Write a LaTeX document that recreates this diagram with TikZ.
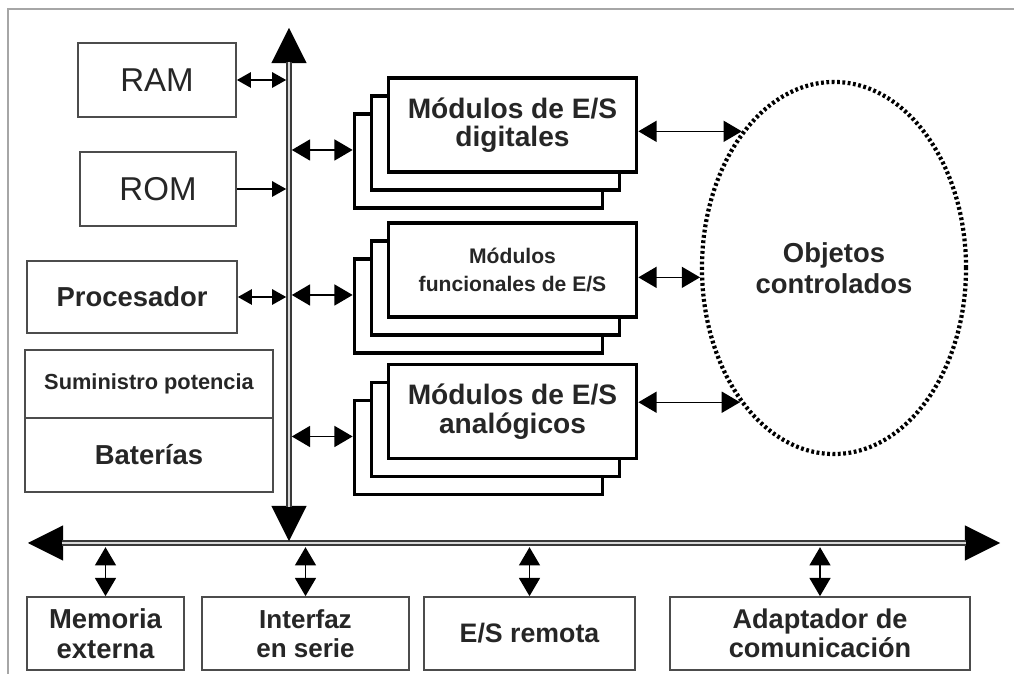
\documentclass[tikz,border=0pt]{standalone}
\usepackage{fontspec}
\setmainfont{Liberation Sans}
\usetikzlibrary{arrows.meta,shapes.geometric}

\tikzset{
  caja/.style={draw=black!70,line width=1.2pt,fill=white,inner sep=0pt,align=center,text=black!85},
  modulo/.style={draw=black,line width=2.6pt,fill=white,minimum width=6.2cm,minimum height=2.35cm,inner sep=0pt,align=center,text=black!85},
  marco/.style={draw=gray!70,line width=1.8pt},
  bus/.style={draw=gray!45!black,double=gray!30,double distance=2pt,line width=1.1pt},
  puntabus/.style={line width=0.4pt,{Triangle[length=25pt,width=25pt]}-{Triangle[length=25pt,width=25pt]}},
  es/.style={line width=1pt,{Triangle[length=10pt,width=11pt]}-{Triangle[length=10pt,width=11pt]}},
  esu/.style={line width=1pt,-{Triangle[length=10pt,width=11pt]}},
  esg/.style={line width=1pt,{Triangle[length=13pt,width=15pt]}-{Triangle[length=13pt,width=15pt]}},
  objeto/.style={draw=black,ellipse,line width=3pt,dash pattern=on 2pt off 1.8pt,inner sep=0pt,align=center,text=black!85}
}

\begin{document}
\begin{tikzpicture}[x=0.025cm,y=-0.025cm]
\useasboundingbox (0,0) rectangle (1014,674);

%marco exterior
\draw[marco] (8,674) -- (8,9) -- (1014,9);

%------------bus interno y bus externo------------
\coordinate (vtop) at (289,28);
\coordinate (vbot) at (289,541);
\coordinate (hizq) at (28,543);
\coordinate (hder) at (1000,543);
\draw[puntabus] (hizq) -- (hder);
\draw[bus,shorten <=24pt,shorten >=24pt] (hizq) -- (hder);
\draw[puntabus] (vtop) -- (vbot);
\draw[bus,shorten <=24pt,shorten >=24pt] (vtop) -- (vbot);

%memorias, procesador, alimentacion
\node[caja,minimum width=3.95cm,minimum height=1.85cm,font=\fontsize{23.5}{24}\selectfont] (ram) at (157,80) {RAM};
\node[caja,minimum width=3.9cm,minimum height=1.85cm,font=\fontsize{23.5}{24}\selectfont] (rom) at (158,189) {ROM};
\node[caja,minimum width=5.25cm,minimum height=1.8cm,font=\bfseries\fontsize{19.5}{21}\selectfont] (proc) at (132,297) {Procesador};
\node[caja,minimum width=6.2cm,minimum height=1.7cm,font=\bfseries\fontsize{15.5}{18}\selectfont] (sum) at (149,384) {Suministro potencia};
\node[caja,minimum width=6.2cm,minimum height=1.85cm,font=\bfseries\fontsize{19.5}{21}\selectfont] (bat) at (149,455) {Baterías};

\draw[es,shorten >=2pt] (ram.east) -- (ram.east -| vtop);
\draw[esu,shorten >=2pt] (rom.east) -- (rom.east -| vtop);
\draw[es,shorten >=2pt] (proc.east) -- (proc.east -| vtop);

%------------modulos de E/S (tres capas)------------
\node[modulo] (digc) at (478.5,161) {};
\node[modulo] (digb) at (495.5,143) {};
\node[modulo,font=\bfseries\fontsize{20}{20}\selectfont] (dig) at (512.5,125) {Módulos de E/S\\digitales};

\node[modulo] (func) at (478.5,306) {};
\node[modulo] (funb) at (495.5,288) {};
\node[modulo,font=\bfseries\fontsize{15}{20}\selectfont] (fun) at (512.5,270) {Módulos\\funcionales de E/S};

\node[modulo] (anac) at (478.5,447.5) {};
\node[modulo] (anab) at (495.5,429.5) {};
\node[modulo,font=\bfseries\fontsize{20}{21}\selectfont] (ana) at (512.5,411.5) {Módulos de E/S\\analógicos};

\draw[esg,shorten <=2pt] (digc.175 -| vtop) -- (digc.175);
\draw[esg,shorten <=2pt] (func.175 -| vtop) -- (func.175);
\draw[esg,shorten <=2pt] (anac.175 -| vtop) -- (anac.175);

%objetos controlados
\node[objeto,minimum width=6.6cm,minimum height=9.3cm,font=\bfseries\fontsize{19.5}{22}\selectfont] (obj) at (834,268) {Objetos\\controlados};

\draw[esg] (dig.east |- obj.124) -- (obj.124);
\draw[esg] (fun.east |- obj.184) -- (obj.184);
\draw[esg] (ana.east |- obj.235) -- (obj.235);

%------------perifericos del bus externo------------
\node[caja,minimum width=3.925cm,minimum height=1.825cm,font=\bfseries\fontsize{19.5}{21}\selectfont] (mem) at (105.5,633.5) {Memoria\\externa};
\node[caja,minimum width=5.175cm,minimum height=1.825cm,font=\bfseries\fontsize{18.5}{21}\selectfont] (ser) at (305.5,633.5) {Interfaz\\en serie};
\node[caja,minimum width=5.275cm,minimum height=1.825cm,font=\bfseries\fontsize{19}{21}\selectfont] (rem) at (529.5,633.5) {E/S remota};
\node[caja,minimum width=7.5cm,minimum height=1.825cm,font=\bfseries\fontsize{19.3}{21}\selectfont] (ada) at (820,633.5) {Adaptador de\\comunicación};

\draw[esg,shorten <=3pt] (mem.north |- hizq) -- (mem.north);
\draw[esg,shorten <=3pt] (ser.north |- hizq) -- (ser.north);
\draw[esg,shorten <=3pt] (rem.north |- hizq) -- (rem.north);
\draw[esg,shorten <=3pt] (ada.north |- hizq) -- (ada.north);

\end{tikzpicture}
\end{document}
